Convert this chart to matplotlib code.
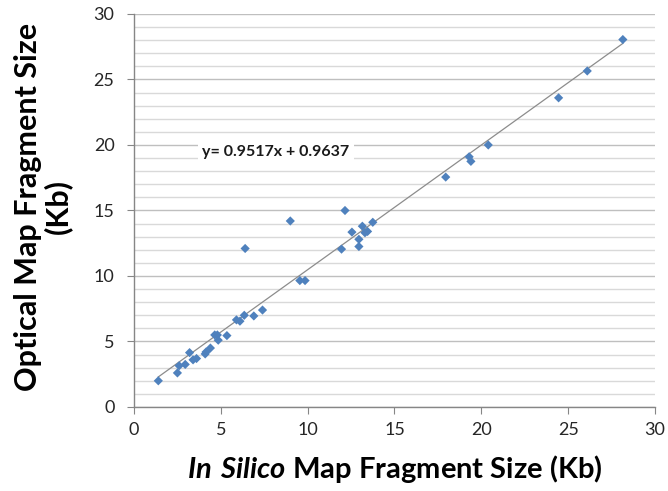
import numpy as np
import matplotlib
matplotlib.use("Agg")
import matplotlib.pyplot as plt
from matplotlib.ticker import MultipleLocator

plt.rcParams["font.family"] = ["Lato", "DejaVu Sans"]
plt.rcParams["mathtext.fontset"] = "custom"
plt.rcParams["mathtext.bfit"] = "Lato:bold:italic"
plt.rcParams["mathtext.rm"] = "Lato"

# fragment sizes (Kb): in silico prediction vs. optical map measurement
in_silico = [1.4, 2.5, 2.6, 2.95, 3.2, 3.4, 3.6, 4.1, 4.15, 4.4, 4.65, 4.8, 4.85,
             5.35, 5.9, 6.1, 6.35, 6.9, 7.4, 6.4, 9.0, 9.55, 9.85, 11.95, 12.15,
             12.55, 12.95, 12.95, 13.15, 13.3, 13.45, 13.75, 17.95, 19.3, 19.4,
             20.4, 24.45, 26.1, 28.15]
optical = [2.0, 2.6, 3.15, 3.25, 4.15, 3.6, 3.7, 4.05, 4.2, 4.5, 5.5, 5.5, 5.1,
           5.45, 6.65, 6.55, 7.0, 6.95, 7.4, 12.1, 14.2, 9.65, 9.65, 12.05, 15.0,
           13.35, 12.8, 12.25, 13.8, 13.3, 13.4, 14.1, 17.55, 19.1, 18.75,
           20.0, 23.6, 25.65, 28.05]

slope = 0.9517
intercept = 0.9637

fig = plt.figure(figsize=(6.68, 4.91), dpi=100)
ax = fig.add_axes([0.2006, 0.1711, 0.7799, 0.8004])

ax.set_xlim(0, 30)
ax.set_ylim(0, 30)
ax.xaxis.set_major_locator(MultipleLocator(5))
ax.yaxis.set_major_locator(MultipleLocator(5))
ax.yaxis.set_minor_locator(MultipleLocator(1))

ax.grid(True, axis="y", which="minor", color="#d9d9d9", linewidth=1.0)
ax.grid(True, axis="y", which="major", color="#bfbfbf", linewidth=1.0)
ax.set_axisbelow(True)

for side in ("top", "right"):
    ax.spines[side].set_visible(False)
for side in ("left", "bottom"):
    ax.spines[side].set_color("#868686")
    ax.spines[side].set_linewidth(1.0)

ax.tick_params(which="major", direction="out", length=5, color="#868686",
               labelsize=13, labelcolor="#262626")
ax.tick_params(axis="y", pad=9)
ax.tick_params(axis="x", pad=6)
ax.tick_params(which="minor", length=0)

# linear trendline over the data range
xs = np.array([min(in_silico), max(in_silico)])
ax.plot(xs, slope * xs + intercept, color="#8c8c8c", linewidth=0.9, zorder=2)

ax.scatter(in_silico, optical, marker="D", s=22, color="#4f81bd",
           edgecolors="none", zorder=3)

ax.text(8.17, 19.47, f"y= {slope}x + {intercept}", fontsize=11.5, fontweight="bold",
        ha="center", va="center", color="#1a1a1a",
        bbox=dict(facecolor="white", edgecolor="none", pad=3))

# axis titles
fig.text(28 / 668, 1 - 207 / 491, "Optical Map Fragment Size", rotation=90,
         fontsize=22, fontweight="bold", ha="center", va="center")
fig.text(58 / 668, 1 - 207 / 491, "(Kb)", rotation=90,
         fontsize=22, fontweight="bold", ha="center", va="center")
fig.text(395 / 668, 1 - 469 / 491,
         r"$\mathbfit{In\ Silico}$ Map Fragment Size (Kb)",
         fontsize=21, fontweight="bold", ha="center", va="center")

fig.savefig("out.png", dpi=100)
